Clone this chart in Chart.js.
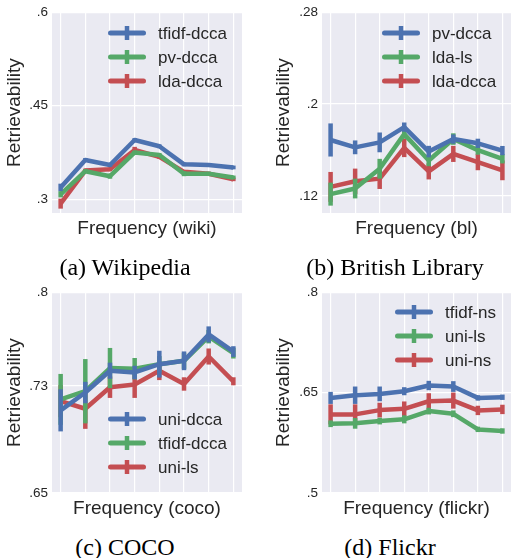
<!DOCTYPE html>
<html>
<head>
<meta charset="utf-8">
<script src="https://cdn.jsdelivr.net/npm/chart.js@4.4.1/dist/chart.umd.min.js"></script>
<style>
  body { margin: 0; background: #fff; }
  #wrap { position: relative; width: 511px; height: 558px; overflow: hidden; }
  canvas { position: absolute; }
  .cap {
    position: absolute; width: 240px; text-align: center;
    font-family: "Liberation Serif", "Times New Roman", serif;
    font-size: 24px; line-height: 28px; color: #000;
  }
</style>
</head>
<body>
<div id="wrap">
  <canvas id="wiki" width="255" height="245" style="left:0;top:0"></canvas>
  <canvas id="bl" width="256" height="245" style="left:255px;top:0"></canvas>
  <canvas id="coco" width="255" height="245" style="left:0;top:280px"></canvas>
  <canvas id="flickr" width="256" height="245" style="left:255px;top:280px"></canvas>
  <div class="cap" style="left:5px;top:253px">(a) Wikipedia</div>
  <div class="cap" style="left:275px;top:253px">(b) British Library</div>
  <div class="cap" style="left:5px;top:533px">(c) COCO</div>
  <div class="cap" style="left:270px;top:533px">(d) Flickr</div>
</div>
<script>
// frequency bins (x positions, no tick labels shown)
const freqBins = [1, 2, 3, 4, 5, 6, 7, 8];

// --- (a) Wikipedia ---
const wikiTicks = [0.3, 0.45, 0.6];
const wikiTickLabels = [".3", ".45", ".6"];
const wikiTfidfDcca = [0.319, 0.363, 0.355, 0.395, 0.385, 0.356, 0.355, 0.351];
const wikiTfidfDccaErr = [0.006, 0.003, 0.003, 0.003, 0.003, 0.003, 0.003, 0.003];
const wikiPvDcca = [0.308, 0.345, 0.337, 0.375, 0.371, 0.341, 0.341, 0.335];
const wikiPvDccaErr = [0.005, 0.003, 0.004, 0.003, 0.003, 0.004, 0.003, 0.003];
const wikiLdaDcca = [0.293, 0.346, 0.348, 0.379, 0.368, 0.344, 0.341, 0.332];
const wikiLdaDccaErr = [0.008, 0.003, 0.003, 0.005, 0.003, 0.003, 0.003, 0.003];

// --- (b) British Library ---
const blTicks = [0.12, 0.2, 0.28];
const blTickLabels = [".12", ".2", ".28"];
const blPvDcca = [0.1688, 0.1624, 0.1667, 0.180, 0.1587, 0.1696, 0.1659, 0.1596];
const blPvDccaErr = [0.0144, 0.006, 0.0086, 0.004, 0.005, 0.004, 0.004, 0.004];
const blLdaLs = [0.1217, 0.1266, 0.1438, 0.1739, 0.151, 0.1696, 0.160, 0.1524];
const blLdaLsErr = [0.010, 0.0086, 0.0086, 0.004, 0.005, 0.005, 0.004, 0.004];
const blLdaDcca = [0.128, 0.1329, 0.1352, 0.1619, 0.1415, 0.1567, 0.1495, 0.1424];
const blLdaDccaErr = [0.013, 0.011, 0.009, 0.008, 0.007, 0.007, 0.007, 0.0086];

// --- (c) COCO ---
const cocoTicks = [0.65, 0.73, 0.8];
const cocoTickLabels = [".65", ".73", ".8"];
const cocoUniDcca = [0.7117, 0.725, 0.7413, 0.740, 0.7462, 0.7487, 0.7684, 0.7556];
const cocoUniDccaErr = [0.0157, 0.008, 0.006, 0.005, 0.010, 0.007, 0.006, 0.004];
const cocoTfidfDcca = [0.7199, 0.726, 0.7433, 0.7428, 0.7462, 0.7487, 0.7667, 0.7544];
const cocoTfidfDccaErr = [0.019, 0.024, 0.015, 0.008, 0.006, 0.006, 0.005, 0.004];
const cocoUniLs = [0.7186, 0.7129, 0.729, 0.731, 0.7413, 0.7314, 0.7519, 0.7334];
const cocoUniLsErr = [0.012, 0.015, 0.008, 0.010, 0.007, 0.005, 0.006, 0.003];

// --- (d) Flickr ---
const flickrTicks = [0.5, 0.65, 0.8];
const flickrTickLabels = [".5", ".65", ".8"];
const flickrTfidfNs = [0.642, 0.646, 0.648, 0.652, 0.6605, 0.659, 0.642, 0.643];
const flickrTfidfNsErr = [0.009, 0.013, 0.011, 0.006, 0.007, 0.008, 0.004, 0.004];
const flickrUniLs = [0.6034, 0.604, 0.6074, 0.61, 0.6223, 0.6183, 0.595, 0.5926];
const flickrUniLsErr = [0.005, 0.008, 0.005, 0.006, 0.005, 0.005, 0.004, 0.004];
const flickrUniNs = [0.6174, 0.6174, 0.6238, 0.6257, 0.637, 0.638, 0.6233, 0.6248];
const flickrUniNsErr = [0.015, 0.015, 0.011, 0.011, 0.012, 0.012, 0.007, 0.007];

const BLUE = "#4C72B0";
const GREEN = "#55A868";
const RED = "#C44E52";
const SANS = "'Liberation Sans', Arial, sans-serif";
const TEXT = "#262626";

// grey plot background (seaborn darkgrid)
const bgPlugin = {
  id: "plotBg",
  beforeDraw(chart) {
    const { ctx, chartArea: a } = chart;
    ctx.save();
    ctx.fillStyle = "#EAEAF2";
    ctx.fillRect(a.left, a.top, a.right - a.left, a.bottom - a.top);
    ctx.restore();
  },
};

// vertical error bars drawn right after each line
const errPlugin = {
  id: "errBars",
  afterDatasetDraw(chart, args) {
    const ds = chart.data.datasets[args.index];
    if (!ds.errors) return;
    const ctx = chart.ctx;
    const yScale = chart.scales.y;
    ctx.save();
    ctx.strokeStyle = ds.borderColor;
    ctx.lineWidth = 4.5;
    ctx.lineCap = "butt";
    args.meta.data.forEach((pt, j) => {
      const v = ds.data[j].y;
      const e = ds.errors[j];
      ctx.beginPath();
      ctx.moveTo(pt.x, yScale.getPixelForValue(v + e));
      ctx.lineTo(pt.x, yScale.getPixelForValue(v - e));
      ctx.stroke();
    });
    ctx.restore();
  },
};

// legend inside the axes, matplotlib errorbar style
const legendPlugin = {
  id: "innerLegend",
  afterDraw(chart, args, opts) {
    if (!opts || opts.x === undefined) return;
    const ctx = chart.ctx;
    chart.data.datasets.forEach((ds, i) => {
      const y = opts.y + i * 24;
      ctx.save();
      ctx.strokeStyle = ds.borderColor;
      ctx.lineCap = "round";
      ctx.lineWidth = 5;
      ctx.beginPath();
      ctx.moveTo(opts.x + 2.5, y);
      ctx.lineTo(opts.x + 35.5, y);
      ctx.stroke();
      ctx.lineCap = "butt";
      ctx.lineWidth = 4.5;
      ctx.beginPath();
      ctx.moveTo(opts.x + 19, y - 7);
      ctx.lineTo(opts.x + 19, y + 7);
      ctx.stroke();
      ctx.fillStyle = TEXT;
      ctx.font = "17px " + SANS;
      ctx.textBaseline = "middle";
      ctx.fillText(ds.label, opts.x + 50, y + 1);
      ctx.restore();
    });
  },
};

function series(label, values, errors, color) {
  return {
    label: label,
    data: values.map((v, i) => ({ x: freqBins[i], y: v })),
    errors: errors,
    borderColor: color,
    backgroundColor: color,
    borderWidth: 4.5,
    borderJoinStyle: "round",
    pointRadius: 0,
    tension: 0,
  };
}

function makePanel(id, p) {
  const ctx = document.getElementById(id).getContext("2d");
  return new Chart(ctx, {
    type: "line",
    data: { datasets: p.datasets },
    plugins: [bgPlugin, errPlugin, legendPlugin],
    options: {
      responsive: false,
      animation: false,
      events: [],
      layout: { padding: { top: 10, right: p.rightPad, left: 0, bottom: 0 } },
      plugins: {
        legend: { display: false },
        tooltip: { enabled: false },
        innerLegend: p.legend,
      },
      scales: {
        x: {
          type: "linear",
          min: 0.65,
          max: 8.35,
          afterBuildTicks: (s) => { s.ticks = freqBins.map((v) => ({ value: v })); },
          afterFit: (s) => { s.height = 32; },
          ticks: { display: false },
          grid: { color: "#ffffff", lineWidth: 1.2, drawTicks: false },
          border: { display: false },
          title: {
            display: true,
            text: p.xTitle,
            color: TEXT,
            font: { family: SANS, size: 19 },
            padding: { top: 0, bottom: 5 },
          },
        },
        y: {
          min: p.yMin,
          max: p.yMax,
          afterBuildTicks: (s) => { s.ticks = p.yTicks.map((v) => ({ value: v })); },
          afterFit: (s) => { s.width = p.yWidth; },
          ticks: {
            color: TEXT,
            padding: 4,
            font: { family: SANS, size: 13.5 },
            callback: (v) => p.yTickLabels[p.yTicks.indexOf(v)],
          },
          grid: { color: "#ffffff", lineWidth: 1.2, drawTicks: false },
          border: { display: false },
          title: {
            display: true,
            text: "Retrievability",
            color: TEXT,
            font: { family: SANS, size: 19 },
            padding: { top: p.yTitlePad, bottom: 0 },
          },
        },
      },
    },
  });
}

makePanel("wiki", {
  datasets: [
    series("tfidf-dcca", wikiTfidfDcca, wikiTfidfDccaErr, BLUE),
    series("pv-dcca", wikiPvDcca, wikiPvDccaErr, GREEN),
    series("lda-dcca", wikiLdaDcca, wikiLdaDccaErr, RED),
  ],
  xTitle: "Frequency (wiki)",
  yMin: 0.278, yMax: 0.6,
  yTicks: wikiTicks, yTickLabels: wikiTickLabels,
  yWidth: 52, yTitlePad: 3.5, rightPad: 13,
  legend: { x: 108, y: 33 },
});

makePanel("bl", {
  datasets: [
    series("pv-dcca", blPvDcca, blPvDccaErr, BLUE),
    series("lda-ls", blLdaLs, blLdaLsErr, GREEN),
    series("lda-dcca", blLdaDcca, blLdaDccaErr, RED),
  ],
  xTitle: "Frequency (bl)",
  yMin: 0.1053, yMax: 0.28,
  yTicks: blTicks, yTickLabels: blTickLabels,
  yWidth: 67, yTitlePad: 17.5, rightPad: 0,
  legend: { x: 127, y: 33 },
});

makePanel("coco", {
  datasets: [
    series("uni-dcca", cocoUniDcca, cocoUniDccaErr, BLUE),
    series("tfidf-dcca", cocoTfidfDcca, cocoTfidfDccaErr, GREEN),
    series("uni-ls", cocoUniLs, cocoUniLsErr, RED),
  ],
  xTitle: "Frequency (coco)",
  yMin: 0.65, yMax: 0.8,
  yTicks: cocoTicks, yTickLabels: cocoTickLabels,
  yWidth: 52, yTitlePad: 3.5, rightPad: 13,
  legend: { x: 108, y: 139 },
});

makePanel("flickr", {
  datasets: [
    series("tfidf-ns", flickrTfidfNs, flickrTfidfNsErr, BLUE),
    series("uni-ls", flickrUniLs, flickrUniLsErr, GREEN),
    series("uni-ns", flickrUniNs, flickrUniNsErr, RED),
  ],
  xTitle: "Frequency (flickr)",
  yMin: 0.5, yMax: 0.8,
  yTicks: flickrTicks, yTickLabels: flickrTickLabels,
  yWidth: 67, yTitlePad: 17.5, rightPad: 0,
  legend: { x: 140, y: 32 },
});
</script>
</body>
</html>
